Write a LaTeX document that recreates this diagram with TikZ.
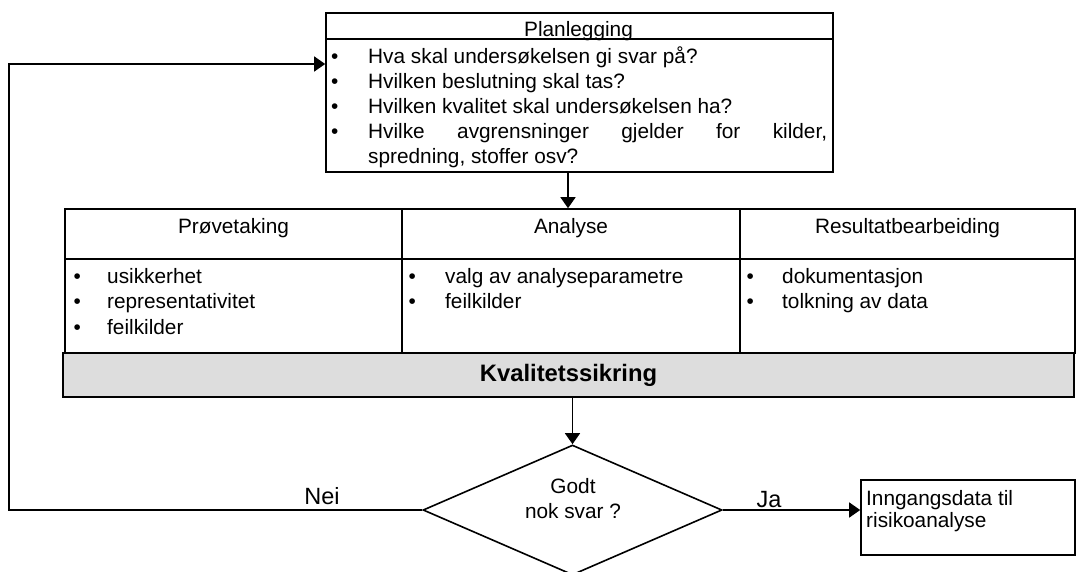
\documentclass[tikz,border=0pt]{standalone}
\usepackage{fontspec}
\setmainfont{Liberation Sans}
\newfontfamily\rfont{Liberation Sans}
\usetikzlibrary{shapes.geometric,arrows.meta}
\definecolor{qgray}{HTML}{DDDDDD}
\begin{document}
\begin{tikzpicture}[x=1pt,y=-1pt,
  box/.style={draw,line width=1.6pt,inner sep=0pt},
  conn/.style={line width=1.4pt},
  arr/.style={conn,-{Triangle[length=11pt,width=15pt]}},
  txt/.style={anchor=base west,inner sep=0pt,font=\rfont\fontsize{20.8}{24}\selectfont},
  ctxt/.style={anchor=base,inner sep=0pt,font=\rfont\fontsize{20.8}{24}\selectfont},
  lbl/.style={anchor=base,inner sep=0pt,font=\fontsize{23.5}{28}\selectfont},
]
\useasboundingbox (0,0) rectangle (1076,571);

% Planlegging box
\node[box,minimum width=507pt,minimum height=159pt] (plan) at (579.5,92.5) {};
\draw[line width=1.6pt] ([yshift=-27pt]plan.north west) -- ([yshift=-27pt]plan.north east);
\node[ctxt] (plantitle) at (578.5,36) {Planlegging};
\node[txt] (pl1) at (331,63) {\makebox[37pt][l]{•}Hva skal undersøkelsen gi svar på?};
\node[txt] (pl2) at (331,88) {\makebox[37pt][l]{•}Hvilken beslutning skal tas?};
\node[txt] (pl3) at (331,113) {\makebox[37pt][l]{•}Hvilken kvalitet skal undersøkelsen ha?};
\node[txt] (pl4) at (331,138) {\makebox[37pt][l]{•}\makebox[459pt][s]{Hvilke avgrensninger gjelder for kilder,}};
\node[txt] (pl5) at (368,163) {spredning, stoffer osv?};

% three columns
\node[box,minimum width=1010pt,minimum height=144pt] (cols) at (570,281) {};
\draw[line width=1.6pt] ([yshift=-51pt]cols.north west) -- ([yshift=-51pt]cols.north east);
\draw[line width=1.6pt] (402,0 |- cols.north) -- (402,0 |- cols.south);
\draw[line width=1.6pt] (740,0 |- cols.north) -- (740,0 |- cols.south);
\node[ctxt] (h1) at (233.5,233) {Prøvetaking};
\node[ctxt] (h2) at (571,233) {Analyse};
\node[ctxt] (h3) at (907.5,233) {Resultatbearbeiding};
\node[txt] (c11) at (73.5,283) {\makebox[33.5pt][l]{•}usikkerhet};
\node[txt] (c12) at (73.5,308.5) {\makebox[33.5pt][l]{•}representativitet};
\node[txt] (c13) at (73.5,334) {\makebox[33.5pt][l]{•}feilkilder};
\node[txt] (c21) at (408.5,283) {\makebox[36.5pt][l]{•}valg av analyseparametre};
\node[txt] (c22) at (408.5,308.5) {\makebox[36.5pt][l]{•}feilkilder};
\node[txt] (c31) at (746.5,283) {\makebox[35.5pt][l]{•}dokumentasjon};
\node[txt] (c32) at (746.5,308.5) {\makebox[35.5pt][l]{•}tolkning av data};

% Kvalitetssikring bar
\node[box,fill=qgray,minimum width=1011pt,minimum height=44pt,
      font=\bfseries\fontsize{23.8}{28}\selectfont] (kval) at (568.5,375) {Kvalitetssikring};

% decision diamond
\node[diamond,draw,line width=1.6pt,inner sep=0pt,aspect=2.3,
      minimum width=299pt,minimum height=130pt] (dia) at (572.5,510) {};
\node[ctxt] (dt1) at (573,493) {Godt};
\node[ctxt] (dt2) at (573,518) {nok svar ?};

% output box
\node[box,minimum width=214pt,minimum height=75pt] (inn) at (968,517.5) {};
\node[txt] (it1) at (866,505) {Inngangsdata til};
\node[txt] (it2) at (866,527) {risikoanalyse};

% connectors
\draw[arr] (568,0 |- plan.south) -- (568,0 |- cols.north);
\draw[arr] (572.5,0 |- kval.south) -- (dia.north);
\coordinate (lb) at (9,510);
\coordinate (lt) at (9,64);
\draw[arr] (dia.west) -- (lb) -- (lt) -- (plan.west |- lt);
\draw[arr] (dia.east) -- (inn.west |- dia.east);
\node[lbl] (nei) at (322,504) {Nei};
\node[lbl] (ja) at (769,507) {Ja};
\end{tikzpicture}
\end{document}
